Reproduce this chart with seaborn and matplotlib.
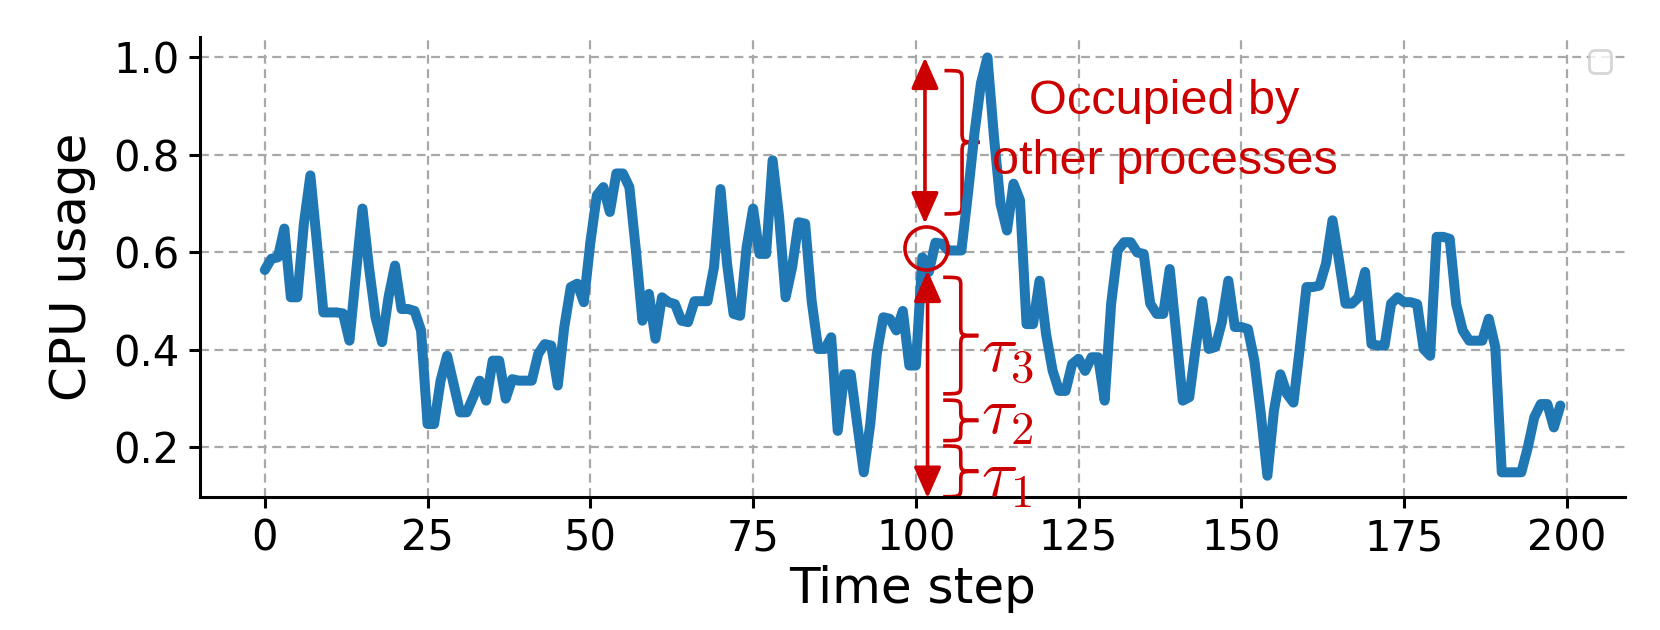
import numpy as np
import matplotlib
matplotlib.use("Agg")
import matplotlib.pyplot as plt
from matplotlib.path import Path
from matplotlib.patches import PathPatch
import seaborn as sns

# ---------------- data ----------------
cpu_usage = [
    0.564, 0.587, 0.590, 0.649, 0.508, 0.508, 0.659, 0.758, 0.620, 0.477,
    0.477, 0.477, 0.475, 0.419, 0.556, 0.690, 0.570, 0.467, 0.416, 0.508,
    0.573, 0.484, 0.484, 0.480, 0.440, 0.248, 0.248, 0.337, 0.388, 0.330,
    0.272, 0.272, 0.303, 0.337, 0.296, 0.378, 0.378, 0.300, 0.340, 0.337,
    0.337, 0.337, 0.392, 0.412, 0.409, 0.327, 0.447, 0.529, 0.536, 0.498,
    0.620, 0.717, 0.734, 0.683, 0.762, 0.762, 0.734, 0.604, 0.460, 0.515,
    0.423, 0.508, 0.498, 0.494, 0.460, 0.457, 0.500, 0.500, 0.500, 0.570,
    0.730, 0.577, 0.474, 0.470, 0.610, 0.690, 0.597, 0.597, 0.789, 0.673,
    0.508, 0.570, 0.662, 0.659, 0.500, 0.402, 0.402, 0.426, 0.234, 0.350,
    0.350, 0.248, 0.149, 0.248, 0.392, 0.467, 0.464, 0.440, 0.480, 0.368,
    0.368, 0.590, 0.560, 0.620, 0.618, 0.604, 0.604, 0.604, 0.720, 0.844,
    0.947, 1.000, 0.837, 0.700, 0.645, 0.741, 0.707, 0.453, 0.453, 0.542,
    0.433, 0.358, 0.316, 0.316, 0.371, 0.382, 0.357, 0.385, 0.385, 0.296,
    0.495, 0.604, 0.621, 0.621, 0.600, 0.597, 0.495, 0.474, 0.474, 0.566,
    0.433, 0.296, 0.303, 0.406, 0.500, 0.402, 0.406, 0.457, 0.542, 0.447,
    0.447, 0.443, 0.378, 0.268, 0.142, 0.275, 0.350, 0.310, 0.292, 0.406,
    0.529, 0.529, 0.532, 0.577, 0.666, 0.584, 0.495, 0.495, 0.508, 0.560,
    0.412, 0.409, 0.409, 0.495, 0.508, 0.498, 0.498, 0.494, 0.402, 0.388,
    0.632, 0.632, 0.628, 0.494, 0.440, 0.419, 0.419, 0.419, 0.464, 0.406,
    0.149, 0.149, 0.149, 0.149, 0.200, 0.262, 0.289, 0.289, 0.241, 0.286,
]
time_step = list(range(len(cpu_usage)))

x_label = "Time step"
y_label = "CPU usage"
note_text = "Occupied by\nother processes"
tau_labels = [r"$\tau_1$", r"$\tau_2$", r"$\tau_3$"]
# annotation levels (CPU usage values)
marked_step = 101.5
marked_level = 0.61
tau_bounds = [(0.099, 0.203), (0.214, 0.297), (0.310, 0.549)]
tau_text_y = [0.138, 0.267, 0.392]
occupied_bounds = (0.679, 0.973)

# ---------------- style ----------------
sns.set_style("ticks")
plt.rcParams.update({
    "font.family": ["DejaVu Sans"],
    "mathtext.fontset": "cm",
    "axes.linewidth": 1.1,
    "xtick.major.width": 1.1,
    "ytick.major.width": 1.1,
    "xtick.major.size": 4,
    "ytick.major.size": 4,
    "xtick.color": "black",
    "ytick.color": "black",
    "axes.edgecolor": "black",
    "axes.labelcolor": "black",
    "text.color": "black",
})

RED = "#cc0000"
BLUE = "#1f77b4"

fig = plt.figure(figsize=(8.3, 3.15), dpi=200)
ax = fig.add_axes([0.1205, 0.2117, 0.8585, 0.7303])

sns.lineplot(x=time_step, y=cpu_usage, ax=ax, color=BLUE, linewidth=3.6)
ax.margins(x=0.05, y=0.05)
ax.autoscale_view()
ax.set_xlim(ax.get_xlim())
ax.set_ylim(ax.get_ylim())
ax.autoscale(False)

ax.grid(True, linestyle=(0, (4, 2.5)), color="#a8a8a8", linewidth=0.8)
sns.despine(ax=ax)
ax.tick_params(labelsize=15)
ax.set_xlabel(x_label, fontsize=18, labelpad=2)
ax.set_ylabel(y_label, fontsize=18, labelpad=6)

# empty legend box (as in the original)
ax.legend(handles=[], loc="upper right", frameon=True)

# ---------------- annotations ----------------
ax.plot([marked_step], [marked_level], marker="o", markersize=15.5,
        markerfacecolor="none", markeredgecolor=RED, markeredgewidth=1.3,
        linestyle="none", zorder=5)

arrow_kw = dict(arrowstyle="<|-|>,head_length=0.95,head_width=0.42",
                color=RED, lw=1.3, shrinkA=0, shrinkB=0, mutation_scale=10)
ax.annotate("", xy=(101.4, 1.0), xytext=(101.4, 0.659), arrowprops=arrow_kw)
ax.annotate("", xy=(101.8, 0.563), xytext=(101.8, 0.096),
            arrowprops=arrow_kw, annotation_clip=False)


def curly_brace(ax, x, y0, y1, w, q, **kw):
    xm = x + w / 2.0
    ym = (y0 + y1) / 2.0
    verts = [
        (x, y1), (xm, y1), (xm, y1), (xm, y1 - q),
        (xm, ym + q),
        (xm, ym), (xm, ym), (x + w, ym),
        (xm, ym), (xm, ym), (xm, ym - q),
        (xm, y0 + q),
        (xm, y0), (xm, y0), (x, y0),
    ]
    codes = [Path.MOVETO, Path.CURVE4, Path.CURVE4, Path.CURVE4,
             Path.LINETO,
             Path.CURVE4, Path.CURVE4, Path.CURVE4,
             Path.CURVE4, Path.CURVE4, Path.CURVE4,
             Path.LINETO,
             Path.CURVE4, Path.CURVE4, Path.CURVE4]
    patch = PathPatch(Path(verts, codes), facecolor="none", clip_on=False, **kw)
    ax.add_patch(patch)


brace_kw = dict(edgecolor=RED, linewidth=1.3)
curly_brace(ax, 104.4, occupied_bounds[0], occupied_bounds[1], 5.4, 0.022, **brace_kw)
for (lo, hi) in tau_bounds:
    curly_brace(ax, 104.2, lo, hi, 5.4, 0.02, **brace_kw)

for lab, yy in zip(tau_labels, tau_text_y):
    ax.text(110.0, yy, lab, color=RED, fontsize=24, ha="left", va="center")

ax.text(138.2, 0.848, note_text, color=RED, fontsize=17.5, ha="center",
        va="center", family=["Liberation Sans"], linespacing=1.45)

fig.savefig("out.png", dpi=200)
